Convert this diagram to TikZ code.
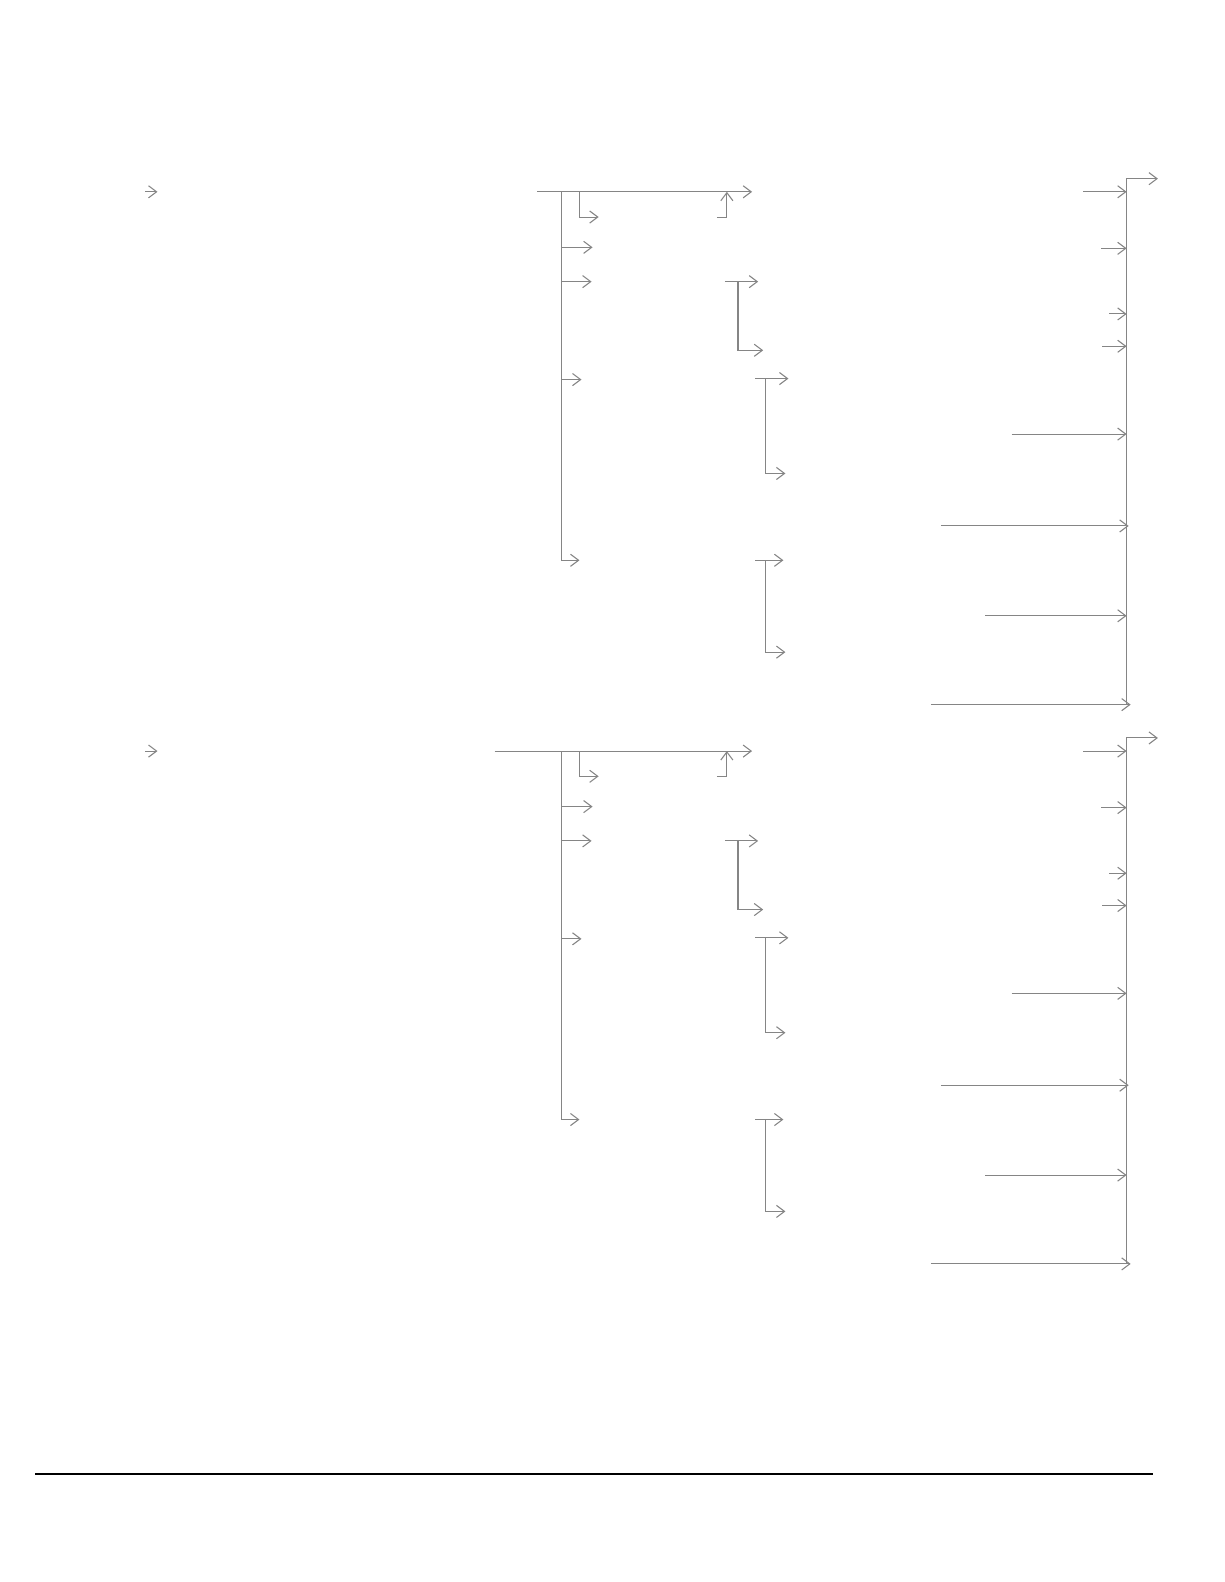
\documentclass[tikz,border=0pt]{standalone}
\usetikzlibrary{arrows.meta}
\begin{document}
\begin{tikzpicture}[x=0.75pt,y=-0.75pt,
  conn/.style={draw=black!48, line width=0.8pt},
  arr/.style={conn,-{Straight Barb[length=6pt,width=9pt]}},
  rule/.style={draw=black, line width=2pt}]
\useasboundingbox (0,0) rectangle (1212.5,1567.1);
\foreach \g/\dy/\sx in {a/0/532,b/554/490}{
  % small lone arrow
  \coordinate (\g s0) at (144,{190+\dy});
  \coordinate (\g s1) at (156,{190+\dy});
  \draw[arr] (\g s0) -- (\g s1);
  % main line
  \coordinate (\g m0) at (\sx,{190+\dy});
  \coordinate (\g m1) at (745,{190+\dy});
  \draw[arr] (\g m0) -- (\g m1);
  % trunk
  \coordinate (\g t0) at (556,{190+\dy});
  \coordinate (\g t2) at (556,{245+\dy});
  \coordinate (\g t3) at (556,{279+\dy});
  \coordinate (\g t4) at (556,{376+\dy});
  \coordinate (\g t5) at (556,{555+\dy});
  \coordinate (\g e2) at (587,{245+\dy});
  \coordinate (\g e3) at (586,{279+\dy});
  \coordinate (\g e4) at (576,{376+\dy});
  \coordinate (\g e5) at (574,{555+\dy});
  \draw[arr] (\g t0) -- (\g t5) -- (\g e5);
  \draw[arr] (\g t2) -- (\g e2);
  \draw[arr] (\g t3) -- (\g e3);
  \draw[arr] (\g t4) -- (\g e4);
  % small branch
  \coordinate (\g b0) at (574,{190+\dy});
  \coordinate (\g b1) at (574,{215+\dy});
  \coordinate (\g b2) at (593,{215+\dy});
  \draw[arr] (\g b0) -- (\g b1) -- (\g b2);
  % up arrow
  \coordinate (\g u0) at (710,{215+\dy});
  \coordinate (\g u1) at (720,{215+\dy});
  \coordinate (\g u2) at (720,{190+\dy});
  \draw[arr] (\g u0) -- (\g u1) -- (\g u2);
  % pairs
  \coordinate (\g p1a) at (718,{279+\dy});
  \coordinate (\g p1b) at (751,{279+\dy});
  \coordinate (\g p1c) at (731,{279+\dy});
  \coordinate (\g p1d) at (731,{347+\dy});
  \coordinate (\g p1e) at (756,{347+\dy});
  \draw[arr] (\g p1a) -- (\g p1b);
  \draw[arr] (\g p1c) -- (\g p1d) -- (\g p1e);
  \coordinate (\g p2a) at (748,{375+\dy});
  \coordinate (\g p2b) at (781,{375+\dy});
  \coordinate (\g p2c) at (758,{375+\dy});
  \coordinate (\g p2d) at (758,{469+\dy});
  \coordinate (\g p2e) at (778,{469+\dy});
  \draw[arr] (\g p2a) -- (\g p2b);
  \draw[arr] (\g p2c) -- (\g p2d) -- (\g p2e);
  \coordinate (\g p3a) at (748,{555+\dy});
  \coordinate (\g p3b) at (776,{555+\dy});
  \coordinate (\g p3c) at (758,{555+\dy});
  \coordinate (\g p3d) at (758,{646+\dy});
  \coordinate (\g p3e) at (778,{646+\dy});
  \draw[arr] (\g p3a) -- (\g p3b);
  \draw[arr] (\g p3c) -- (\g p3d) -- (\g p3e);
  % right collector
  \coordinate (\g r0) at (1116,{698+\dy});
  \coordinate (\g r1) at (1116,{177+\dy});
  \coordinate (\g r2) at (1147,{177+\dy});
  \draw[arr] (\g r0) -- (\g r1) -- (\g r2);
  \foreach \i/\y/\xs/\xe in {1/190/1073/1116, 2/246/1091/1116, 3/311/1099/1116,
      4/343/1092/1116, 5/430/1002/1116, 6/521/932/1118, 7/610/976/1116, 8/698/922/1120}{
    \coordinate (\g i\i) at (\xs,{\y+\dy});
    \coordinate (\g o\i) at (\xe,{\y+\dy});
    \draw[arr] (\g i\i) -- (\g o\i);
  }
}
\coordinate (L0) at (35,1460);
\coordinate (L1) at (1142,1460);
\draw[rule] (L0) -- (L1);
\end{tikzpicture}
\end{document}
